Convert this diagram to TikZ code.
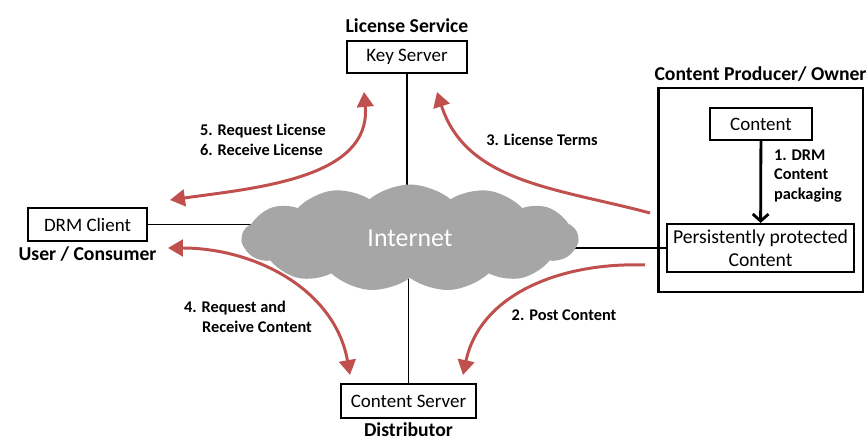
\documentclass[tikz,border=0pt]{standalone}
\usepackage{fontspec}
\setmainfont{Carlito}
\usepackage{xcolor}
\usetikzlibrary{positioning,backgrounds,fit,shapes,arrows.meta}

\definecolor{drmred}{HTML}{C0504D}
\definecolor{netgray}{HTML}{A6A6A6}

\begin{document}
\begin{tikzpicture}[
    box/.style={rectangle, draw=black, line width=1.2pt, fill=white, minimum height=0.64cm, align=center, font=\fontsize{10.8}{13}\selectfont},
    role/.style={inner sep=1pt, font=\bfseries\fontsize{11.2}{13}\selectfont},
    steplbl/.style={inner sep=1pt, align=left, font=\bfseries\fontsize{9.3}{11.3}\selectfont},
    link/.style={line width=0.8pt},
    flow/.style={drmred, line width=1.7pt, -{Triangle[length=8.5pt,width=9.5pt]}},
    dflow/.style={drmred, line width=1.7pt, {Triangle[length=8.5pt,width=9.5pt]}-{Triangle[length=8.5pt,width=9.5pt]}},
    node distance=0.1cm
]
\useasboundingbox (0,0) rectangle (17.34,8.84);

% Internet cloud (center)
\node[cloud, fill=netgray, cloud puffs=13, cloud puff arc=80, aspect=3.2, minimum width=6.72cm, minimum height=2.14cm, text=white, font=\fontsize{14.7}{16}\selectfont] (net) at (8.2,4.08) {Internet};

% Key server (top)
\node[box, minimum width=2.4cm] (key) at (8.14,7.70) {Key Server};
\node[role, above=of key] (keyrole) {License Service};

% DRM client (left)
\node[box, minimum width=2.38cm, minimum height=0.66cm] (client) at (1.75,4.35) {DRM Client};
\node[role, below=0.06cm of client] (clientrole) {User / Consumer};

% Content server (bottom)
\node[box, minimum width=2.7cm, minimum height=0.68cm] (server) at (8.17,0.82) {Content Server};
\node[role, below=0.04cm of server] (serverrole) {Distributor};

% Content producer (right)
\node[box, minimum width=2.04cm] (content) at (15.22,6.36) {Content};
\node[box, minimum width=3.74cm, minimum height=0.96cm, inner sep=1pt, font=\fontsize{11.2}{13}\selectfont] (persist) at (15.21,3.88) {Persistently protected\\Content};
\node[draw, line width=1.2pt, fit=(content)(persist), inner xsep=0.15cm, inner ysep=0.38cm] (owner) {};
\node[role, above=0.06cm of owner] (ownerrole) {Content Producer/ Owner};
\draw[line width=1.6pt, -{Straight Barb[length=4pt,width=9pt]}] (content) -- (persist);
\node[steplbl, anchor=west] (pack) at (15.44,5.32) {1. DRM\\Content\\packaging};

% links to the internet
\begin{scope}[on background layer]
\draw[link] (key.south) -- (key.south |- net.center);
\draw[link] (server.north) -- (server.north |- net.center);
\draw[link] (client.east) -- (client.east -| net.center);
\draw[link] (persist.west) -- (persist.west -| net.center);
\end{scope}

% message flows
\coordinate (licL) at (3.40,4.84);
\coordinate (licT) at (7.28,7.00);
\coordinate (termR) at (13.00,4.58);
\coordinate (termT) at (8.74,7.00);
\coordinate (getL) at (3.36,3.88);
\coordinate (getB) at (7.00,1.34);
\coordinate (postR) at (12.90,3.54);
\coordinate (postB) at (9.26,1.34);

\draw[dflow] (licL) to[out=8, in=-85] (licT);
\draw[flow] (termR) to[out=165, in=-72] (termT);
\draw[dflow] (getL) to[out=0, in=100] (getB);
\draw[flow] (postR) to[out=178, in=78] (postB);

\node[steplbl] (licmsg) at (5.26,6.04) {5. Request License\\6. Receive License};
\node[steplbl] (termmsg) at (10.84,6.04) {3. License Terms};
\node[steplbl, anchor=west] (getmsg) at (3.64,2.50) {4. Request and\\\hspace*{1.1em}Receive Content};
\node[steplbl] (postmsg) at (11.28,2.54) {2. Post Content};

\end{tikzpicture}
\end{document}
